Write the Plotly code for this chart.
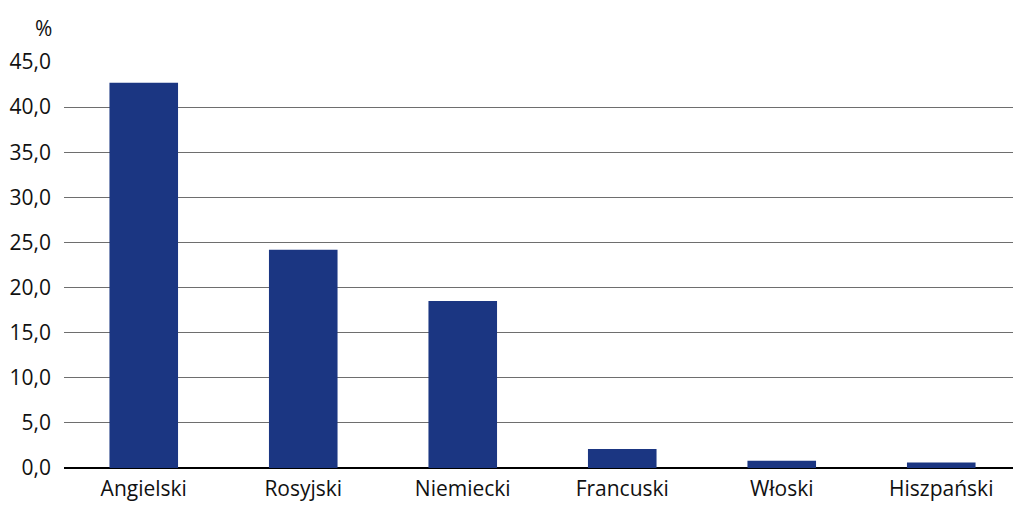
import plotly.graph_objects as go

categories = ["Angielski", "Rosyjski", "Niemiecki", "Francuski", "Włoski", "Hiszpański"]
values = [42.7, 24.2, 18.5, 2.1, 0.8, 0.6]
y_ticks = [0, 5, 10, 15, 20, 25, 30, 35, 40, 45]

fig = go.Figure(go.Bar(
    x=categories, y=values,
    marker=dict(color="#1b3682", line=dict(width=0)),
))

fig.update_layout(
    width=1013, height=499,
    margin=dict(l=56, r=0, t=54, b=39),
    paper_bgcolor="white", plot_bgcolor="white",
    separators=", ",
    bargap=0.57,
    showlegend=False,
    font=dict(family="Open Sans", size=21, color="#111111"),
    annotations=[dict(text="%", xref="paper", yref="paper", x=-0.01, y=1.045,
                      xanchor="right", yanchor="bottom", showarrow=False,
                      font=dict(size=21, color="#111111"))],
)
fig.update_yaxes(range=[0, 45], tickvals=y_ticks, tickformat=".1f",
                 showgrid=True, gridcolor="#6e6e6e", gridwidth=1,
                 zeroline=True, zerolinecolor="#000000", zerolinewidth=1.5,
                 showline=False, ticks="", ticklabelstandoff=12)
fig.update_xaxes(showgrid=False, showline=False, ticks="", tickfont=dict(size=21),
                 ticklabelstandoff=6)

fig.write_html("out.html")
